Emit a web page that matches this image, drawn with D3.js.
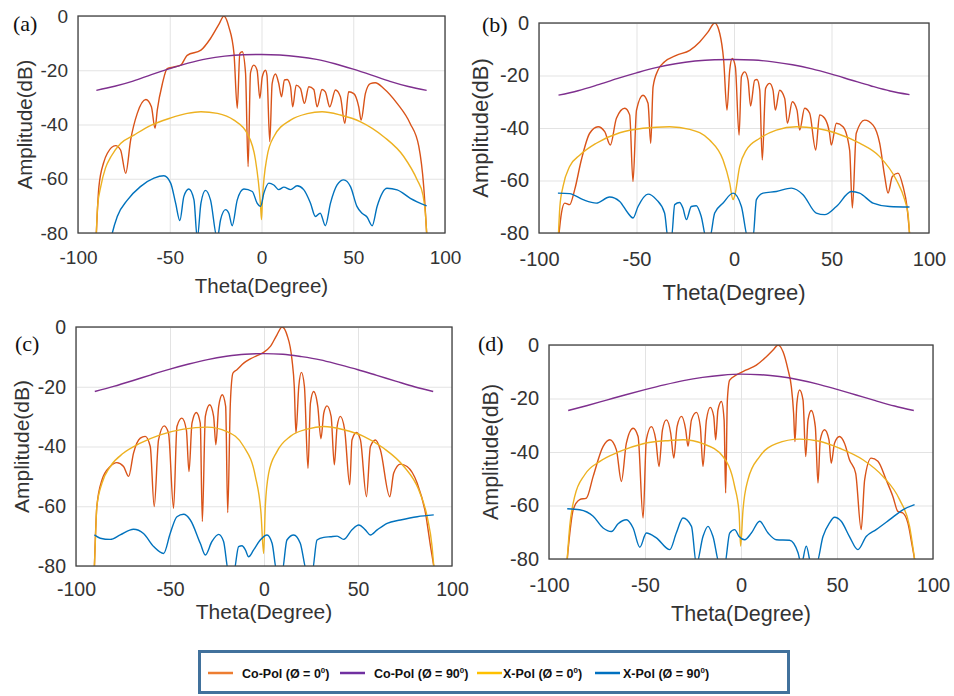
<!DOCTYPE html>
<html>
<head>
<meta charset="utf-8">
<script src="https://cdn.jsdelivr.net/npm/d3@7"></script>
<style>
  body { margin: 0; background: #fff; }
  svg { display: block; }
  .tick text { fill: #333; }
</style>
</head>
<body>
<div id="chart"></div>
<script>
// ticks
var xTicks = [-100, -50, 0, 50, 100]
var yTicks = [0, -20, -40, -60, -80]
var panelNames = ["(a)", "(b)", "(c)", "(d)"]
var seriesNames = ["Co-Pol (Ø = 0", "Co-Pol (Ø = 90", "X-Pol (Ø = 0", "X-Pol (Ø = 90"]
var seriesColors = ["#D95319", "#7E2F8E", "#EDB120", "#0072BD"]
var legendColors = ["#ED7D31", "#7030A0", "#FFC000", "#0070C0"]

// panel (a)  [theta, dB]
var coPol0A = [[-90,-80],[-88.6,-62.9],[-86,-54],[-84,-50.6],[-79.5,-47.8],[-76.8,-49.4],[-74,-58],[-71.3,-45.7],[-67.7,-35.9],[-63,-30.8],[-60,-33.5],[-58,-41.4],[-56.8,-34.7],[-54,-24.9],[-51.4,-19.4],[-47.7,-18.8],[-44,-18.1],[-40.5,-14.5],[-33,-12.6],[-27.8,-8.3],[-23,-2.8],[-20.5,0],[-17.8,-4],[-15,-13.8],[-13.2,-34],[-11.8,-13.8],[-10.5,-13.2],[-8.7,-21],[-7.3,-55.5],[-6,-21],[-4.2,-18.1],[-2.4,-20],[-0.9,-30.4],[0.4,-22.5],[2.2,-20],[3,-22],[4.5,-46.3],[5.8,-24.9],[7.6,-21.4],[9.4,-24.9],[10.9,-29.8],[12.5,-23.6],[14,-23.4],[15.8,-26],[17,-33.5],[18.9,-25.5],[21.2,-26.7],[23.4,-32.2],[25.8,-26.1],[28.5,-27.1],[30.3,-33.5],[33,-27.1],[34.8,-28],[37.2,-33.5],[40.3,-27.3],[43,-29.8],[45.4,-39.6],[47.5,-27.9],[50.3,-28.6],[53,-33.5],[54.3,-38.4],[56.6,-28.6],[59.3,-24.9],[62,-24.6],[66.6,-26.7],[73.9,-32.2],[81,-39.6],[85.7,-48],[88.4,-62.9],[90,-80]]
var coPol90A = [[-90,-27.4],[-80,-25.9],[-70,-24],[-60,-21.6],[-50,-19.4],[-40,-17.4],[-30,-15.8],[-20,-14.8],[-10,-14.3],[0,-14.2],[10,-14.4],[20,-15],[30,-16],[40,-17.6],[50,-19.6],[60,-21.8],[70,-24.1],[80,-26],[90,-27.4]]
var xPol0A = [[-90,-80],[-89.3,-70],[-87.6,-62.9],[-85,-56],[-82,-51.8],[-76.8,-47],[-69.5,-43.9],[-60,-40.2],[-50,-37.7],[-40.5,-35.9],[-33,-35.3],[-24,-35.9],[-15,-38.4],[-7.8,-43.3],[-3.3,-53],[-0.5,-70],[0,-75],[0.5,-68],[3,-52],[6.7,-44.5],[15.8,-38.4],[24.9,-36],[33,-35.3],[43,-36.5],[54,-39],[66.6,-44.5],[77.5,-51.8],[84.8,-60.4],[88,-66],[89.3,-72.7],[90,-80]]
var xPol90A = [[-83,-86],[-81.3,-80],[-78.6,-73.9],[-73,-67.8],[-66,-62.9],[-58.6,-59.8],[-53.2,-58.9],[-49.5,-61.6],[-46.8,-69],[-44.5,-75.4],[-42.3,-66.5],[-39.6,-63.8],[-36.8,-67.8],[-35,-82],[-33,-69],[-30.5,-64.3],[-27.8,-67.8],[-24.1,-82],[-22.3,-75.1],[-19.6,-71.4],[-17.8,-72.7],[-16,-77.3],[-13.2,-67.8],[-9.6,-63.8],[-5,-64.7],[-2.4,-69],[-0.5,-70.2],[1.3,-65.3],[4,-61.6],[6.7,-62.3],[9.4,-64],[12.2,-63.1],[15.8,-64],[19.4,-62.6],[23,-64],[26.7,-69],[29.4,-73.9],[32,-72.7],[34.8,-77.3],[37.6,-69],[41.2,-62.3],[44.8,-60.4],[48.5,-62.9],[52,-70.2],[54.8,-72.7],[57.5,-74.1],[60.3,-77.3],[63,-70.2],[68.4,-63.5],[73.9,-64.1],[81.1,-67.2],[90,-70]]

// panel (b)
var coPol0B = [[-89.7,-80],[-88.5,-72.4],[-86.8,-68.6],[-84.3,-69.2],[-81.7,-63.5],[-78.3,-52.2],[-74,-42],[-69.7,-39.5],[-66.3,-41.4],[-63.4,-46.5],[-60.3,-36.3],[-56,-32.5],[-53.5,-35],[-51.8,-60.4],[-50,-33.2],[-46.7,-27.5],[-44.1,-30.6],[-42.7,-45.8],[-41.5,-24.3],[-39,-18],[-35.6,-14.8],[-29.6,-12.3],[-22.7,-10.4],[-17.6,-7.2],[-13.3,-3.4],[-9.9,0],[-7.3,-4],[-5.3,-14.2],[-3.6,-33.2],[-2.2,-18],[-0.9,-13.5],[0.7,-16.7],[2.6,-42.7],[3.8,-20.5],[5.5,-18.6],[7.2,-21.8],[8.5,-31.6],[10.6,-21.8],[11.8,-21.5],[13.2,-25.6],[14.5,-52.2],[16.2,-24.9],[18.3,-23],[20,-25.6],[21.2,-33.2],[23.4,-25.6],[26,-28.7],[27.4,-38.2],[29.9,-30],[32.3,-33.2],[33.7,-40.8],[36.2,-32.5],[38.8,-34.4],[41.9,-48.4],[43.9,-35],[46.5,-36.3],[49,-42],[49.9,-46.5],[52.5,-38.2],[55.9,-39.5],[59.3,-48.4],[60.7,-70.5],[62.7,-42],[67,-37],[71.3,-38.9],[74.7,-45.8],[77.3,-58.5],[79,-64.8],[81.2,-58.5],[84.1,-57.2],[86.7,-62.3],[88.7,-69.9],[90,-80]]
var coPol90B = [[-90,-27.5],[-80,-25.8],[-70,-23.6],[-60,-21.2],[-50,-19],[-40,-17],[-30,-15.5],[-20,-14.5],[-10,-14],[0,-13.9],[10,-14.1],[20,-14.8],[30,-15.9],[40,-17.5],[50,-19.5],[60,-21.7],[70,-23.9],[80,-25.9],[90,-27.3]]
var xPol0B = [[-90,-80],[-89.3,-70],[-87.7,-62.3],[-84.3,-54.7],[-79,-50.3],[-70.6,-45.8],[-58.6,-41.8],[-46.7,-40.1],[-33,-39.5],[-22.7,-40.5],[-12.5,-44.6],[-5.6,-52.2],[-2.2,-61],[-0.5,-67.3],[0.3,-66],[2.9,-54.7],[6.3,-48.4],[13.2,-43.9],[21.7,-40.8],[32,-39.5],[42.2,-40.1],[52.5,-42],[64.4,-45.8],[74.7,-50.9],[83.2,-59.7],[87.5,-67.3],[89.3,-73],[90,-80]]
var xPol90B = [[-90.3,-64.8],[-84.3,-65],[-77.4,-67.3],[-70.6,-68.6],[-63.8,-66.3],[-58.6,-68],[-54.4,-72.4],[-51.8,-74.3],[-49.2,-69.9],[-44.1,-65.2],[-39.8,-67.3],[-35.6,-72.4],[-33.8,-82],[-32.1,-82],[-30.4,-69.2],[-27.9,-68.4],[-26.2,-70.5],[-24.4,-74.9],[-21.9,-69.9],[-19.3,-69.6],[-16.8,-73.7],[-14.2,-82],[-12.5,-82],[-9.9,-72.4],[-5.6,-68.6],[-0.5,-64.8],[3.8,-69.9],[7.2,-82],[9.7,-82],[11.5,-67.3],[14.9,-64.8],[21.7,-64.2],[29.4,-62.9],[35.4,-65.4],[42.2,-72.4],[46.5,-73],[52.5,-69.9],[60.2,-64.2],[64.4,-64.8],[71.3,-68.6],[79.8,-69.9],[90,-70.1]]

// panel (c)
var coPol0C = [[-90.2,-80],[-88.9,-60],[-86.2,-51.2],[-81.8,-46.7],[-78.3,-45.4],[-74.7,-46.7],[-72,-50],[-69.4,-42.2],[-65.8,-37.2],[-63.2,-36.6],[-60.5,-40],[-58.4,-60.1],[-56.1,-37.8],[-53.1,-33.1],[-50.8,-35.5],[-48.1,-60.7],[-46.3,-33.3],[-43.7,-30.5],[-41.3,-34.4],[-39.9,-48.4],[-38.3,-32.2],[-36,-28.6],[-33.9,-32.2],[-32.8,-65.1],[-31.2,-29.9],[-28.9,-26],[-26.8,-29.9],[-25.6,-39.4],[-24.1,-26.6],[-22.2,-22.7],[-20.4,-26.6],[-19.3,-62.1],[-17.9,-25.5],[-16.5,-15.4],[-14.4,-14.3],[-10.8,-12.1],[-7.3,-10.7],[-2.8,-9.3],[-0.2,-8.5],[3.4,-6.5],[6.9,-2.6],[9.6,0],[12.2,-2.6],[14.9,-11],[16.1,-19.9],[17,-35.5],[18.5,-19.9],[19.9,-15.2],[21.5,-19.9],[23.4,-47.3],[24.7,-25.5],[26.4,-21.6],[28.6,-26.6],[30.3,-37.4],[31.8,-28.8],[33.5,-26.4],[35.7,-29.9],[37.4,-46.1],[38.9,-33.3],[40.6,-29.9],[42.9,-34.4],[45.6,-52.8],[46.8,-37.8],[49.2,-35.3],[51.3,-37.8],[54.5,-56.8],[56.6,-40],[59.3,-37.8],[61.9,-41.1],[66.9,-56.8],[69,-48.9],[72.6,-45.9],[76.1,-46.7],[81.5,-52.3],[85.9,-62.3],[88.6,-73.5],[90.3,-80]]
var coPol90C = [[-90,-21.6],[-80,-19.9],[-70,-18],[-60,-16],[-50,-14.1],[-40,-12.4],[-30,-10.9],[-20,-9.8],[-10,-9.1],[0,-8.9],[10,-9.1],[20,-9.9],[30,-11],[40,-12.6],[50,-14.3],[60,-16.2],[70,-18.1],[80,-20],[90,-21.6]]
var xPol0C = [[-90.2,-80],[-89.5,-68],[-88.9,-60],[-86.2,-52.3],[-81.8,-46.7],[-74.7,-42.2],[-65.8,-38.9],[-55.2,-36.1],[-42.8,-34.2],[-30.3,-33.5],[-19.7,-35],[-10.8,-40],[-4.6,-50],[-1.6,-62.3],[-0.2,-75.8],[0.7,-60],[2.5,-48.9],[6.9,-41.7],[14,-36.6],[22.9,-34.2],[31.8,-33.3],[42.4,-34.4],[53,-36.6],[63.7,-40.6],[74.4,-46.7],[82.3,-54.5],[86.8,-63.5],[89.4,-73.5],[90.3,-80]]
var xPol90C = [[-90.2,-69.6],[-87.1,-70.7],[-81.8,-71.1],[-76.5,-69.6],[-69.4,-67.7],[-64.1,-69.1],[-58.7,-73.5],[-53.4,-75.8],[-49.9,-69.1],[-46.3,-63.5],[-42.8,-62.7],[-39.2,-64.6],[-33.9,-72.4],[-31.2,-76.3],[-27.7,-71.8],[-24.1,-69.4],[-21.5,-71.8],[-18.8,-82],[-16.1,-82],[-13.5,-73.5],[-11.7,-73.2],[-9.9,-74.6],[-8.2,-76.9],[-5.5,-74.6],[-2,-71.3],[1.6,-69.6],[4.3,-72.4],[6.9,-82],[9.6,-82],[12.2,-71.3],[15.8,-69.6],[19.3,-72.4],[22.9,-82],[25.6,-82],[28.2,-71.3],[31.8,-70.4],[35.3,-70.2],[38.9,-70],[42.4,-71.1],[46.8,-67.9],[50.4,-66.3],[53.9,-67.9],[56.6,-69.6],[60.2,-67.9],[65.5,-65.7],[72.6,-64.6],[81.5,-63.5],[90.3,-62.9]]

// panel (d)
var coPol0D = [[-90.5,-80],[-89.2,-70.6],[-87.4,-61.6],[-84,-57.8],[-80.5,-57.2],[-77,-49.1],[-71.8,-37.9],[-68.3,-35.4],[-64.9,-39.2],[-62.3,-51],[-59.7,-36.7],[-56.2,-31.1],[-53.6,-34.2],[-51,-64.7],[-49.3,-35.4],[-46.7,-30.5],[-44.4,-35.4],[-42.7,-45.4],[-40.9,-31.7],[-38.9,-28],[-36.6,-33],[-35,-42.3],[-33.3,-30.5],[-31,-26.7],[-28.8,-31.7],[-27.6,-37.9],[-25.8,-28],[-23.2,-25.2],[-21.2,-30.5],[-19.8,-45.4],[-18,-28],[-16,-23.3],[-14.2,-26.7],[-13.2,-35.4],[-12,-24.3],[-10.2,-21.1],[-8.8,-28],[-8,-55.3],[-7.1,-20.5],[-5.9,-13.1],[-2.4,-11.2],[2.8,-9.3],[8,-7.5],[13.2,-4.4],[16.7,-1.9],[19.3,0],[21.9,-2.5],[24.5,-9.3],[26.2,-15.5],[27.4,-25.5],[28.1,-36.1],[29.1,-21.8],[30.5,-16.8],[32.3,-20.5],[33.7,-41.7],[34.9,-28],[36.6,-24.5],[38.7,-30.5],[40.1,-51.6],[41.3,-35.4],[43.5,-31.7],[45.8,-35.4],[47,-44.2],[48.7,-36.7],[51.3,-34.2],[53.9,-36.7],[56.5,-42.9],[59.7,-47.9],[62.6,-69],[64.4,-50.4],[67.8,-42.3],[71.3,-43.5],[75.6,-50.4],[79.1,-56.6],[81.7,-62.2],[84.3,-62.8],[86.9,-66.5],[89.2,-75.2],[90.4,-80]]
var coPol90D = [[-90,-24.5],[-80,-22.6],[-70,-20.6],[-60,-18.6],[-50,-16.7],[-40,-14.9],[-30,-13.3],[-20,-12.1],[-10,-11.3],[0,-10.9],[10,-11.1],[20,-11.8],[30,-13],[40,-14.6],[50,-16.6],[60,-18.7],[70,-20.8],[80,-22.8],[90,-24.5]]
var xPol0D = [[-90.5,-80],[-89.2,-67.8],[-86.6,-56.6],[-81.4,-48.5],[-73.5,-43.5],[-63.1,-39.8],[-51,-36.9],[-37.1,-35.7],[-30.2,-35.4],[-19.8,-36.9],[-9.4,-41.7],[-3.3,-52.9],[-1,-62.8],[-0.2,-75.2],[1,-62],[3.6,-50.4],[9.7,-41.7],[18.4,-36.9],[30.5,-35.2],[40.9,-36],[51.3,-38.6],[63.5,-42.9],[73.9,-49.1],[82.6,-57.8],[87.8,-67.8],[90.4,-80]]
var xPol90D = [[-90.5,-61.2],[-84,-61.6],[-77,-64],[-71.8,-68.4],[-67.5,-69.7],[-64,-66.8],[-59.7,-65.3],[-56.2,-68.4],[-52.7,-75.6],[-49.3,-70.3],[-44.1,-72.1],[-37.1,-76.5],[-33.7,-70.3],[-30.2,-64.7],[-25.8,-67.8],[-23.2,-82],[-19.8,-71.6],[-17.2,-67.8],[-14.6,-71.6],[-11.1,-82],[-8.5,-82],[-5.9,-70.3],[-3.3,-69],[-1,-71.6],[1.9,-72.8],[5.4,-70.3],[9.7,-65.9],[14.1,-70.3],[18.4,-72.8],[25.3,-73],[29.7,-77.7],[31.4,-82],[34,-75.2],[36.6,-82],[39.2,-82],[42.7,-71.6],[46.1,-66.5],[48.7,-64.4],[52.2,-65.9],[56.5,-71.6],[60.9,-76.5],[65.2,-71.6],[70.4,-69],[77.4,-65.3],[84.3,-61.6],[90.4,-59.7]]

var panelSeries = [
  [coPol0A, coPol90A, xPol0A, xPol90A],
  [coPol0B, coPol90B, xPol0B, xPol90B],
  [coPol0C, coPol90C, xPol0C, xPol90C],
  [coPol0D, coPol90D, xPol0D, xPol90D]
]

// layout of each panel in page pixels
var layout = [
  { left: 78,  right: 445, top: 16,  bottom: 233, tick: 19,   title: 20.5, xTickY: 257, titleY: 286, yLabX: 25,  labX: 13,  labY: 23 },
  { left: 539, right: 929, top: 23,  bottom: 233, tick: 20,   title: 22,   xTickY: 259, titleY: 292, yLabX: 480, labX: 482, labY: 24 },
  { left: 76,  right: 452, top: 327, bottom: 566, tick: 19.5, title: 21,   xTickY: 589, titleY: 612, yLabX: 22,  labX: 15,  labY: 343 },
  { left: 549, right: 933, top: 345, bottom: 559, tick: 20,   title: 21.5, xTickY: 585, titleY: 613, yLabX: 490, labX: 478, labY: 343 }
]

var svg = d3.select("#chart").append("svg")
  .attr("width", 954)
  .attr("height", 696)

var font = "'Liberation Sans', Arial, sans-serif"

layout.forEach(function(L, i) {
  var w = L.right - L.left, h = L.bottom - L.top

  var x = d3.scaleLinear().domain([-100, 100]).range([0, w])
  var y = d3.scaleLinear().domain([-80, 0]).range([h, 0])

  var g = svg.append("g").attr("transform", "translate(" + L.left + "," + L.top + ")")

  g.append("clipPath").attr("id", "clip" + i)
    .append("rect").attr("width", w).attr("height", h)

  // grid + labels from the axes
  var xAxis = d3.axisBottom(x).tickValues(xTicks).tickSize(-h).tickPadding(L.xTickY - L.bottom - 6)
    .tickFormat(function(d) { return String(d) })
  var yAxis = d3.axisLeft(y).tickValues(yTicks).tickSize(-w).tickPadding(10)
    .tickFormat(function(d) { return String(d) })

  var gx = g.append("g").attr("transform", "translate(0," + h + ")").call(xAxis)
  var gy = g.append("g").call(yAxis)

  ;[gx, gy].forEach(function(a) {
    a.select(".domain").remove()
    a.selectAll(".tick line").attr("stroke", "#e3e3e3").attr("stroke-width", 1)
    a.selectAll(".tick text").attr("font-family", font).attr("font-size", L.tick).attr("fill", "#333")
  })
  gx.selectAll(".tick text").attr("dy", "0.35em").attr("y", L.xTickY - L.bottom)

  var line = d3.line()
    .x(function(d) { return x(d[0]) })
    .y(function(d) { return y(d[1]) })
    .curve(d3.curveMonotoneX)

  var plot = g.append("g").attr("clip-path", "url(#clip" + i + ")")
  panelSeries[i].forEach(function(s, k) {
    plot.append("path")
      .datum(s)
      .attr("d", line)
      .attr("fill", "none")
      .attr("stroke", seriesColors[k])
      .attr("stroke-width", 1.4)
      .attr("stroke-linejoin", "round")
  })

  g.append("rect")
    .attr("width", w).attr("height", h)
    .attr("fill", "none").attr("stroke", "#404040").attr("stroke-width", 1.3)

  // axis titles
  g.append("text")
    .attr("x", w / 2).attr("y", L.titleY - L.top)
    .attr("dy", "0.35em").attr("text-anchor", "middle")
    .attr("font-family", font).attr("font-size", L.title).attr("fill", "#333")
    .text("Theta(Degree)")

  svg.append("text")
    .attr("transform", "translate(" + L.yLabX + "," + (L.top + h / 2) + ") rotate(-90)")
    .attr("dy", "0.35em").attr("text-anchor", "middle")
    .attr("font-family", font).attr("font-size", L.title).attr("fill", "#333")
    .text("Amplitude(dB)")

  svg.append("text")
    .attr("x", L.labX).attr("y", L.labY).attr("dy", "0.35em")
    .attr("font-family", "'Liberation Serif', 'Times New Roman', serif")
    .attr("font-size", 22).attr("fill", "#111")
    .text(panelNames[i])
})

// legend
var legend = svg.append("g")
legend.append("rect")
  .attr("x", 199.5).attr("y", 651.5).attr("width", 589).attr("height", 41)
  .attr("fill", "#fff").attr("stroke", "#41719C").attr("stroke-width", 3)

var legendLineX = [208, 340, 477, 595]
var legendTextX = [242, 374, 503, 623]
seriesNames.forEach(function(name, k) {
  legend.append("line")
    .attr("x1", legendLineX[k]).attr("x2", legendLineX[k] + 25)
    .attr("y1", 673).attr("y2", 673)
    .attr("stroke", legendColors[k]).attr("stroke-width", 2.5)
  var t = legend.append("text")
    .attr("x", legendTextX[k]).attr("y", 677.5)
    .attr("font-family", font).attr("font-weight", "bold")
    .attr("font-size", 12.5).attr("fill", "#111")
  t.append("tspan").text(name)
  t.append("tspan").attr("dy", -5).attr("font-size", 8).text("0")
  t.append("tspan").attr("dy", 5).text(")")
})
</script>
</body>
</html>
